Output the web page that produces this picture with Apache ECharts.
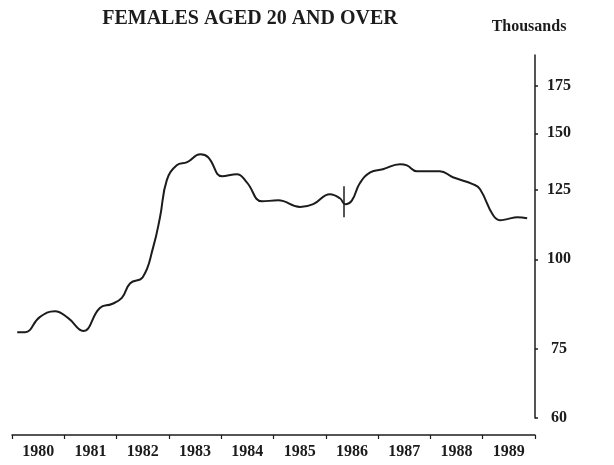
<!DOCTYPE html>
<html>
<head>
<meta charset="utf-8">
<script src="https://cdn.jsdelivr.net/npm/echarts@6/dist/echarts.min.js"></script>
<style>html,body{margin:0;padding:0;background:#fff;}#c{width:614px;height:465px;}</style>
</head>
<body>
<div id="c"></div>
<script>
const yearLabels = ['1980','1981','1982','1983','1984','1985','1986','1987','1988','1989'];
const tYears = [1980.10,1980.25,1980.53,1980.82,1981.07,1981.36,1981.68,1981.91,1982.10,1982.26,1982.50,1982.70,1982.83,1982.96,1983.15,1983.35,1983.60,1983.75,1984.02,1984.30,1984.49,1984.78,1985.09,1985.51,1985.76,1986.08,1986.27,1986.37,1986.50,1986.65,1986.85,1987.09,1987.42,1987.55,1987.74,1988.18,1988.43,1988.82,1988.95,1989.20,1989.33,1989.47,1989.66,1989.85];
const values = [79.1,79.1,83.0,84.6,82.8,79.4,85.5,86.6,88.3,92.6,94.4,104.0,114.5,129.0,135.3,136.7,140.2,138.9,130.6,131.5,128.1,120.5,120.9,118.3,119.4,123.3,121.7,119.4,120.9,127.7,132.3,133.6,135.8,135.3,132.8,132.8,130.2,127.3,125.3,115.2,113.4,113.8,114.5,114.1];
const yTicks = [60,75,100,125,150,175];
const breakX = 1986.35;
const breakRange = [114.5, 126.5];

const FONT = 'Liberation Serif';
const INK = '#1c1c1c';
const chart = echarts.init(document.getElementById('c'));
chart.setOption({
  animation: false,
  backgroundColor: '#fff',
  title: [
    {text: 'FEMALES AGED 20 AND OVER', left: 245, top: 4, textAlign: 'center',
     textStyle: {fontFamily: FONT, fontWeight: 'bold', fontSize: 20, color: INK}},
    {text: 'Thousands', left: 524, top: 14, textAlign: 'center',
     textStyle: {fontFamily: FONT, fontWeight: 'bold', fontSize: 16, color: INK}}
  ],
  grid: {left: 12, right: 79, top: 55, bottom: 47},
  xAxis: [
    {type: 'value', min: 1980, max: 1990, show: false},
    {type: 'category', data: yearLabels, boundaryGap: true, position: 'bottom', offset: 17,
     axisLine: {show: true, lineStyle: {color: INK, width: 1.5}},
     axisTick: {show: true, length: 4, lineStyle: {color: INK, width: 1.2}},
     axisLabel: {fontFamily: FONT, fontWeight: 'bold', fontSize: 16, color: INK, margin: 9},
     splitLine: {show: false}}
  ],
  yAxis: {
    type: 'log', min: 60, max: 193, position: 'right',
    axisLine: {show: true, lineStyle: {color: INK, width: 1.5}},
    axisTick: {show: true, length: 3, customValues: yTicks, lineStyle: {color: INK, width: 1.5}},
    axisLabel: {customValues: yTicks, fontFamily: FONT, fontWeight: 'bold', fontSize: 16, color: INK,
                margin: 24, align: 'center'},
    splitLine: {show: false}
  },
  series: [{
    type: 'line', xAxisIndex: 0, yAxisIndex: 0,
    data: tYears.map((t, i) => [t, values[i]]),
    smooth: 0.45, symbol: 'none',
    lineStyle: {color: INK, width: 2},
    markLine: {
      silent: true, symbol: 'none', label: {show: false},
      lineStyle: {type: 'solid', color: INK, width: 1.5},
      data: [[{coord: [breakX, breakRange[1]]}, {coord: [breakX, breakRange[0]]}]]
    }
  }]
});
</script>
</body>
</html>
